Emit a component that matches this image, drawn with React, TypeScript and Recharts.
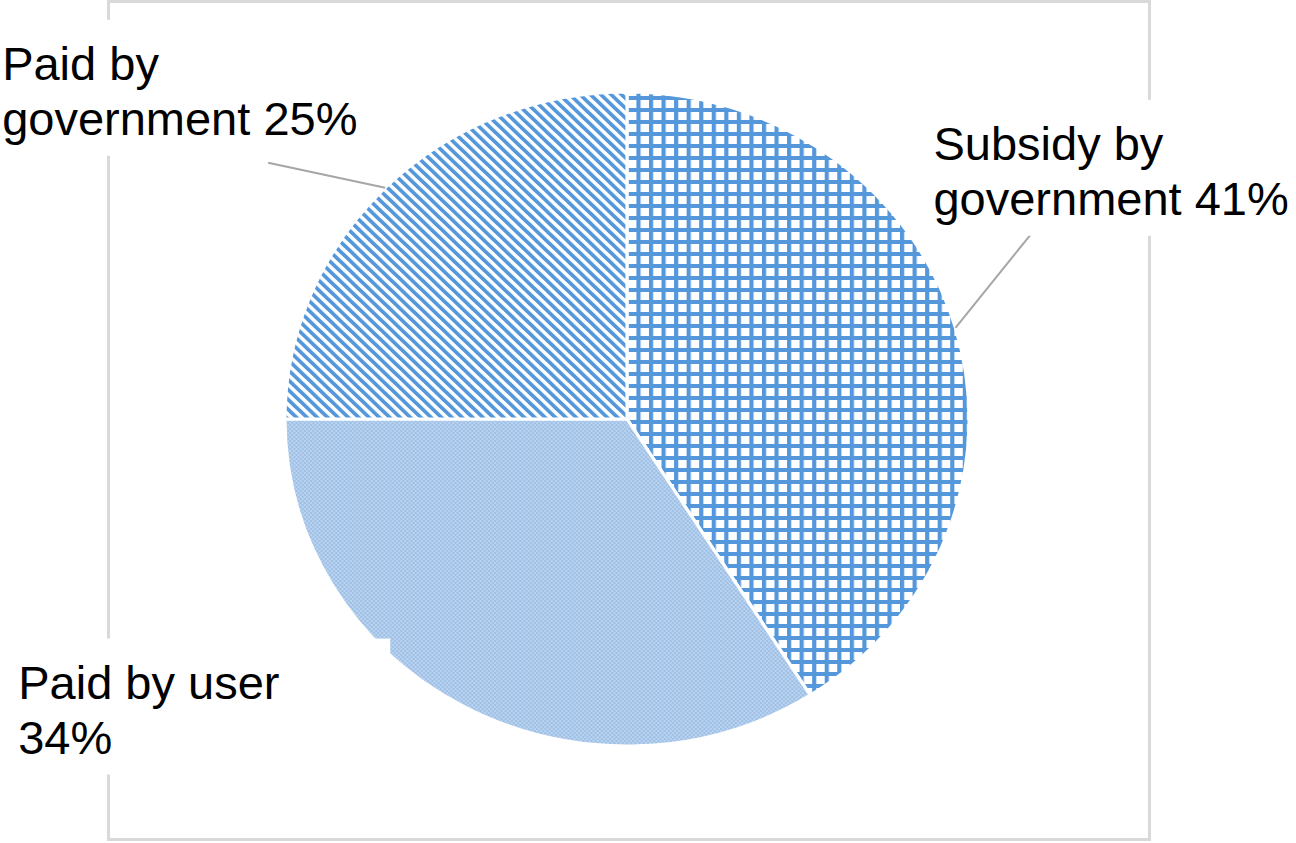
import React from 'react';
import { PieChart, Pie, Cell, Sector } from 'recharts';

// slices, clockwise from 12 o'clock
const SLICE_NAMES = ['Subsidy by government', 'Paid by user', 'Paid by government'];
const SLICE_SHARES = [41, 34, 25];
// how many words of "<name> <share>%" go on the first label line
const FIRST_LINE_WORDS = [2, 3, 2];

const SLICE_FILLS = ['url(#gridFill)', 'url(#checkFill)', 'url(#stripeFill)'];

const BLUE = '#5597db';
const SCALE_X = 1.046; // the original pie is slightly wider than tall
const FONT = '"Liberation Sans", Arial, sans-serif';

// label placement relative to the slice's outer point (hand placed in the original)
const LABEL_LAYOUT = [
  { dx: -22, dy: -168, boxW: 375, line: [75, -93] },
  { dx: -444, dy: -7, boxW: 382, line: null },
  { dx: -383, dy: -108, boxW: 372, line: [-117, -25] },
];

const data = SLICE_NAMES.map((name, i) => ({ name, value: SLICE_SHARES[i] }));

const EllipseSector = (props: any) => {
  const { cx, cy } = props;
  return (
    <g transform={`translate(${cx} ${cy}) scale(${SCALE_X} 1) translate(${-cx} ${-cy})`}>
      <Sector {...props} />
    </g>
  );
};

const renderLabel = (props: any) => {
  const { cx, cy, midAngle, outerRadius, index, name, value } = props;
  const rad = Math.PI / 180;
  const ax = cx + outerRadius * SCALE_X * Math.cos(-midAngle * rad);
  const ay = cy + outerRadius * Math.sin(-midAngle * rad);
  const lay = LABEL_LAYOUT[index];
  const tx = ax + lay.dx;
  const ty = ay + lay.dy;
  const words = `${name} ${value}%`.split(' ');
  const first = words.slice(0, FIRST_LINE_WORDS[index]).join(' ');
  const second = words.slice(FIRST_LINE_WORDS[index]).join(' ');
  return (
    <g key={`label-${index}`}>
      {lay.line && (
        <line x1={ax} y1={ay} x2={ax + lay.line[0]} y2={ay + lay.line[1]} stroke="#a6a6a6" strokeWidth={2} />
      )}
      <rect x={tx - 10} y={ty - 60} width={lay.boxW} height={136} fill="#ffffff" />
      <text x={tx} y={ty} fontSize={47} fontFamily={FONT} fill="#000000">
        <tspan x={tx}>{first}</tspan>
        <tspan x={tx} dy={55}>{second}</tspan>
      </text>
    </g>
  );
};

export default function App() {
  return (
    <div style={{ position: 'fixed', left: 0, top: 0, width: 1296, height: 843, background: '#fff' }}>
      <svg width={0} height={0} style={{ position: 'absolute' }}>
        <defs>
          <pattern id="gridFill" patternUnits="userSpaceOnUse" width={12} height={12}>
            <rect x={0} y={0} width={12} height={12} fill="#ffffff" />
            <rect x={0} y={0} width={4} height={12} fill={BLUE} />
            <rect x={0} y={0} width={12} height={4} fill={BLUE} />
          </pattern>
          <pattern id="stripeFill" patternUnits="userSpaceOnUse" width={7} height={7} patternTransform="rotate(-45)">
            <rect x={0} y={0} width={7} height={7} fill="#ffffff" />
            <rect x={0} y={0} width={3.6} height={7} fill={BLUE} />
          </pattern>
          <pattern id="checkFill" patternUnits="userSpaceOnUse" width={4} height={4}>
            <rect x={0} y={0} width={4} height={4} fill="#bad3ef" />
            <rect x={0} y={0} width={2} height={2} fill="#9fc0e6" />
            <rect x={2} y={2} width={2} height={2} fill="#9fc0e6" />
          </pattern>
        </defs>
      </svg>
      {/* chart frame */}
      <div
        style={{
          position: 'absolute',
          left: 107,
          top: 0,
          width: 1044,
          height: 841,
          border: '3px solid #d9d9d9',
          boxSizing: 'border-box',
        }}
      />
      <div style={{ position: 'absolute', left: 0, top: 0 }}>
        <PieChart width={1296} height={843} margin={{ top: 0, right: 0, bottom: 0, left: 0 }}>
          <Pie
            data={data}
            dataKey="value"
            nameKey="name"
            cx={627}
            cy={419}
            outerRadius={327}
            startAngle={90}
            endAngle={-270}
            stroke="#ffffff"
            strokeWidth={3}
            shape={EllipseSector}
            activeShape={EllipseSector}
            label={renderLabel}
            labelLine={false}
            isAnimationActive={false}
          >
            {data.map((entry, i) => (
              <Cell key={entry.name} fill={SLICE_FILLS[i]} />
            ))}
          </Pie>
        </PieChart>
      </div>
    </div>
  );
}
